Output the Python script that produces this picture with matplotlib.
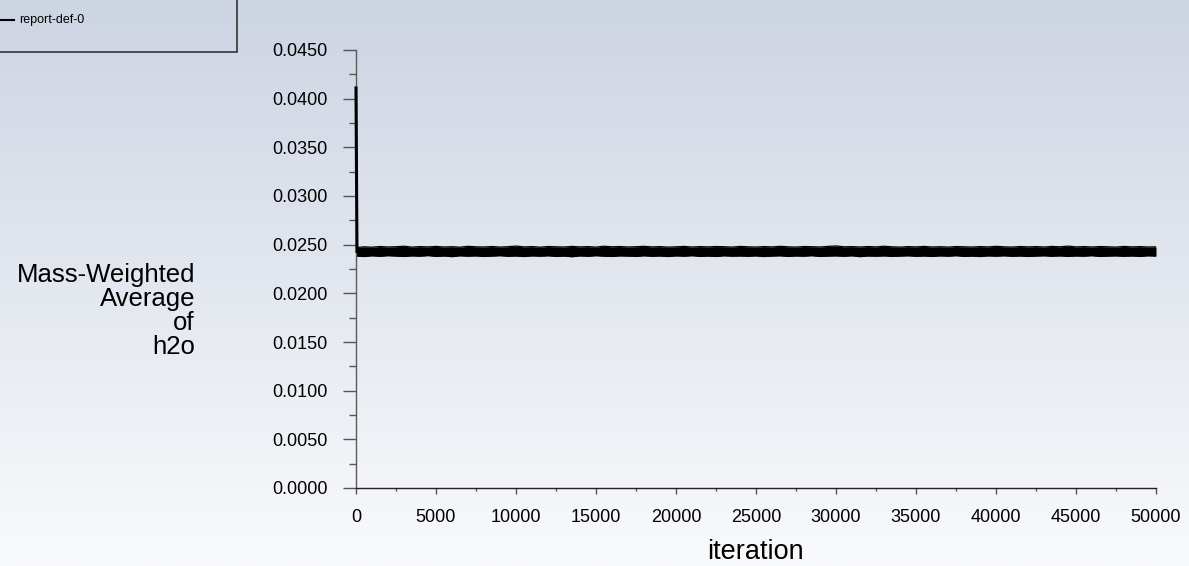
import numpy as np
import matplotlib.pyplot as plt
from matplotlib.colors import LinearSegmentedColormap
from matplotlib.patches import Rectangle
from matplotlib.ticker import MultipleLocator, FormatStrFormatter

plt.rcParams['font.family'] = ['Liberation Sans', 'DejaVu Sans']

# start-up transient (iteration, value)
spike_iter = [0, 60]
spike_val = [0.0411, 0.0243]

# noise band, one sample every 500 iterations
band_iter = list(range(0, 50001, 500))
band_upper = [0.02470, 0.02478, 0.02474, 0.02481, 0.02476, 0.02479, 0.02484, 0.02475, 0.02480, 0.02477,
              0.02482, 0.02476, 0.02479, 0.02474, 0.02483, 0.02478, 0.02476, 0.02481, 0.02475, 0.02479,
              0.02486, 0.02477, 0.02480, 0.02474, 0.02481, 0.02478, 0.02476, 0.02482, 0.02477, 0.02480,
              0.02475, 0.02484, 0.02478, 0.02481, 0.02476, 0.02479, 0.02483, 0.02477, 0.02480, 0.02475,
              0.02478, 0.02482, 0.02476, 0.02480, 0.02477, 0.02481, 0.02479, 0.02475, 0.02482, 0.02478,
              0.02476, 0.02480, 0.02477, 0.02483, 0.02478, 0.02475, 0.02481, 0.02479, 0.02476, 0.02482,
              0.02487, 0.02478, 0.02480, 0.02476, 0.02481, 0.02477, 0.02484, 0.02478, 0.02475, 0.02480,
              0.02477, 0.02482, 0.02476, 0.02479, 0.02475, 0.02481, 0.02478, 0.02476, 0.02480, 0.02477,
              0.02483, 0.02478, 0.02475, 0.02481, 0.02477, 0.02480, 0.02476, 0.02482, 0.02478, 0.02485,
              0.02477, 0.02480, 0.02476, 0.02481, 0.02478, 0.02475, 0.02482, 0.02477, 0.02480, 0.02476,
              0.02478]
band_lower = [0.02384, 0.02378, 0.02386, 0.02381, 0.02387, 0.02383, 0.02379, 0.02385, 0.02382, 0.02388,
              0.02380, 0.02384, 0.02377, 0.02386, 0.02382, 0.02385, 0.02379, 0.02383, 0.02387, 0.02381,
              0.02384, 0.02378, 0.02385, 0.02382, 0.02386, 0.02380, 0.02383, 0.02376, 0.02385, 0.02381,
              0.02387, 0.02382, 0.02379, 0.02385, 0.02383, 0.02380, 0.02386, 0.02381, 0.02384, 0.02378,
              0.02385, 0.02382, 0.02387, 0.02380, 0.02383, 0.02379, 0.02386, 0.02382, 0.02384, 0.02381,
              0.02385, 0.02378, 0.02383, 0.02386, 0.02380, 0.02384, 0.02382, 0.02387, 0.02379, 0.02383,
              0.02385, 0.02381, 0.02386, 0.02377, 0.02384, 0.02382, 0.02385, 0.02380, 0.02383, 0.02386,
              0.02381, 0.02384, 0.02379, 0.02385, 0.02382, 0.02387, 0.02380, 0.02383, 0.02378, 0.02385,
              0.02382, 0.02386, 0.02381, 0.02384, 0.02379, 0.02383, 0.02386, 0.02381, 0.02385, 0.02380,
              0.02384, 0.02382, 0.02387, 0.02379, 0.02383, 0.02385, 0.02381, 0.02384, 0.02380, 0.02386,
              0.02383]

fig = plt.figure(figsize=(11.89, 5.66), dpi=100)

# background gradient
bg = fig.add_axes([0, 0, 1, 1], zorder=-10)
cmap = LinearSegmentedColormap.from_list('bg', ['#f9fafc', '#e3e7ef', '#cdd4e2'])
bg.imshow(np.linspace(0, 1, 256).reshape(-1, 1), aspect='auto', cmap=cmap, origin='lower',
          extent=[0, 1, 0, 1])
bg.set_xlim(0, 1)
bg.set_ylim(0, 1)
bg.axis('off')

W, H = 1189, 566
ax = fig.add_axes([356 / W, 1 - 488 / H, 800 / W, 438 / H])
ax.patch.set_alpha(0)

ax.fill_between(band_iter, band_lower, band_upper, color='black', lw=0)
ax.plot(band_iter, band_upper, color='black', lw=0.9)
ax.plot(band_iter, band_lower, color='black', lw=0.9)
ax.plot(spike_iter, spike_val, color='black', lw=2.2, zorder=5, clip_on=False)

ax.set_xlim(0, 50000)
ax.set_ylim(0, 0.045)
for s in ['top', 'right']:
    ax.spines[s].set_visible(False)
ax.spines['left'].set_color('#5a5a5a')
ax.spines['bottom'].set_color('#222222')
ax.spines['left'].set_linewidth(1)
ax.spines['bottom'].set_linewidth(1)

ax.xaxis.set_major_locator(MultipleLocator(5000))
ax.xaxis.set_minor_locator(MultipleLocator(2500))
ax.yaxis.set_major_locator(MultipleLocator(0.005))
ax.yaxis.set_minor_locator(MultipleLocator(0.0025))
ax.yaxis.set_major_formatter(FormatStrFormatter('%.4f'))

ax.tick_params(axis='y', which='major', length=9.4, width=1, color='#555555', pad=11, labelsize=13)
ax.tick_params(axis='y', which='minor', length=5, width=1, color='#555555')
ax.tick_params(axis='x', which='major', length=4.3, width=1, color='#555555', pad=11, labelsize=13)
ax.tick_params(axis='x', which='minor', length=2.5, width=1, color='#555555')

fig.text(755 / W, 1 - 552 / H, 'iteration', ha='center', va='center', fontsize=19.5)
fig.text(195 / W, 1 - 311 / H, 'Mass-Weighted\nAverage\nof\nh2o', ha='right', va='center',
         multialignment='right', fontsize=18.5, linespacing=1.0)

# legend box in the corner
fig.patches.append(Rectangle((-1 / W, 1 - 52 / H), 238 / W, 53 / H, transform=fig.transFigure,
                             facecolor='none', edgecolor='#333333', lw=1.2))
fig.lines.append(plt.Line2D([0, 14 / W], [1 - 20 / H, 1 - 20 / H], transform=fig.transFigure,
                            color='black', lw=1.5))
fig.text(19 / W, 1 - 20 / H, 'report-def-0', ha='left', va='center', fontsize=9)

fig.savefig('out.png', dpi=100)
